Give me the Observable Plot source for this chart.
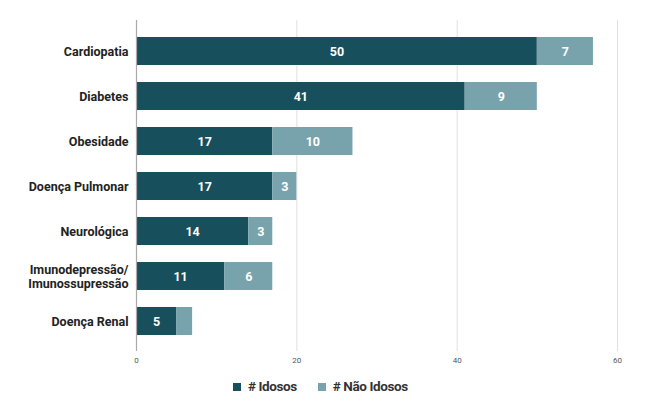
<!DOCTYPE html>
<html>
<head>
<meta charset="utf-8">
<script src="https://cdn.jsdelivr.net/npm/d3@7"></script>
<script src="https://cdn.jsdelivr.net/npm/@observablehq/plot@0.6"></script>
<style>
  body { margin: 0; background: #fff; font-family: Roboto, "Noto Sans", sans-serif; }
  #chart { width: 653px; }
  .legend { display: flex; gap: 21px; margin-left: 233px; margin-top: 3px; font-size: 13.5px; letter-spacing: -0.4px; font-weight: bold; color: #333; }
  .legend span.sw { display: inline-block; width: 8px; height: 8px; margin-right: 7px; vertical-align: 0px; }
</style>
</head>
<body>
<div id="chart"></div>
<script>
const categories = ["Cardiopatia", "Diabetes", "Obesidade", "Doença Pulmonar", "Neurológica", "Imunodepressão/\nImunossupressão", "Doença Renal"];
const idosos = [50, 41, 17, 17, 14, 11, 5];
const naoIdosos = [7, 9, 10, 3, 3, 6, 2];
const seriesNames = ["# Idosos", "# Não Idosos"];
const seriesColors = ["#174f5c", "#78a3ad"];
const xTicks = [0, 20, 40, 60];

const rows = [];
categories.forEach((c, i) => {
  rows.push({cat: c, series: seriesNames[0], value: idosos[i]});
  rows.push({cat: c, series: seriesNames[1], value: naoIdosos[i]});
});

const plot = Plot.plot({
  width: 653,
  height: 375,
  marginLeft: 136,
  marginRight: 36,
  marginTop: 20,
  marginBottom: 24,
  style: {fontFamily: "Roboto, sans-serif"},
  x: {domain: [0, 60], ticks: xTicks, label: null},
  y: {domain: categories, label: null, paddingInner: 0.38, paddingOuter: 0.354},
  color: {domain: seriesNames, range: seriesColors},
  marks: [
    Plot.gridX(xTicks.filter(d => d > 0), {stroke: "#e0e0e0", strokeOpacity: 1, strokeWidth: 1}),
    Plot.barX(rows, Plot.stackX({y: "cat", x: "value", fill: "series", order: seriesNames})),
    Plot.text(rows, Plot.stackX({y: "cat", x: "value", z: "series", order: seriesNames,
      text: d => d.value >= 3 ? String(d.value) : "", fill: "white", fontWeight: "bold", fontSize: 12.5})),
    Plot.ruleX([0], {stroke: "#aaa", strokeWidth: 1.2}),
    Plot.axisX({ticks: xTicks, tickSize: 0, tickPadding: 6, fontSize: 8, fill: "#555", label: null}),
    Plot.axisY({tickSize: 0, tickPadding: 8, fontSize: 12.5, fontWeight: "bold", fill: "#222", label: null, lineHeight: 1.15})
  ]
});
document.getElementById("chart").appendChild(plot);

const legend = document.createElement("div");
legend.className = "legend";
seriesNames.forEach((s, i) => {
  const item = document.createElement("div");
  item.innerHTML = `<span class="sw" style="background:${seriesColors[i]}"></span>${s}`;
  legend.appendChild(item);
});
document.getElementById("chart").appendChild(legend);
</script>
</body>
</html>
